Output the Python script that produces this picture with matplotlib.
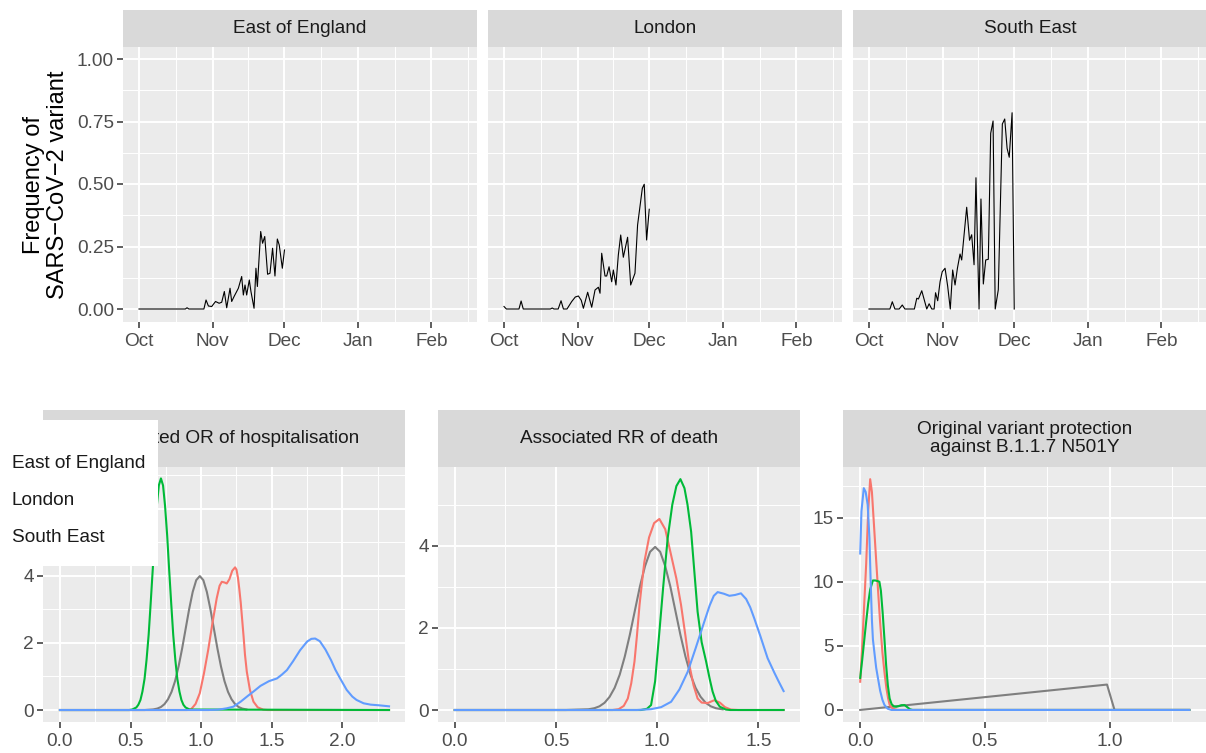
import matplotlib.pyplot as plt
from matplotlib.ticker import FixedLocator

plt.rcParams['font.family'] = ['Liberation Sans', 'DejaVu Sans']

# ---------------- datos: frecuencia de la variante (dias desde 1 oct) ----------------
eoe_dia = [0, 19.5, 20.2, 21, 27.3, 28.2, 29.2, 30.6, 31.3, 32.2, 33.7, 34.8, 35.9, 36.9, 38.3,
           39.0, 40.0, 41.1, 41.8, 43.2, 43.9, 44.6, 45.3, 46.4, 47.1, 48.4, 49.2, 49.8, 51.2,
           52.0, 52.9, 54.1, 55.1, 56.2, 57.2, 58.2, 59.0, 60.3, 61.2]
eoe_frec = [0, 0, 0.005, 0, 0, 0.036, 0.012, 0.010, 0.019, 0.030, 0.023, 0.027, 0.070, 0.005, 0.083,
            0.030, 0.050, 0.070, 0.083, 0.130, 0.056, 0.096, 0.056, 0.116, 0.070, 0.003, 0.163, 0.090, 0.310,
            0.263, 0.290, 0.139, 0.143, 0.243, 0.132, 0.280, 0.256, 0.163, 0.236]

lon_dia = [0, 1, 6.3, 7.2, 8.1, 19.5, 20.3, 21, 22.8, 24, 25, 26.5, 28.5, 30, 31.3, 32.5, 33.4,
           35.2, 36.9, 38.3, 39.7, 40.4, 41.1, 42.5, 43.2, 44.2, 45.3, 46.0, 47.1, 48.1, 49.1,
           50.2, 52.0, 53.3, 55.1, 56.2, 58.2, 59.0, 60.0, 61.1]
lon_frec = [0.010, 0, 0, 0.032, 0, 0, 0.004, 0, 0, 0.033, 0, 0, 0.030, 0.048, 0.052, 0.035, 0.003,
            0.067, 0.007, 0.076, 0.087, 0.063, 0.223, 0.132, 0.132, 0.169, 0.109, 0.156, 0.096, 0.216, 0.296,
            0.207, 0.287, 0.096, 0.143, 0.336, 0.483, 0.499, 0.276, 0.399]

se_dia = [0, 8.8, 9.8, 10.9, 12.7, 14.0, 15.1, 19.1, 20.1, 20.8, 22.2, 24.3, 25.3, 26.4, 27.4,
          28.0, 28.9, 29.9, 30.8, 32.0, 33.1, 34.2, 35.2, 36.2, 37.2, 38.3, 39.0, 41.1, 42.3, 43.2,
          44.2, 45.0, 46.3, 47.1, 48.1, 49.1, 50.2, 51.2, 52.2, 53.1, 54.4, 56.1, 57.1, 58.1, 59.0,
          60.2, 61.1]
se_frec = [0, 0, 0.029, 0, 0, 0.016, 0, 0, 0.043, 0.040, 0.073, 0, 0.021, 0, 0,
           0.065, 0.033, 0.109, 0.149, 0.163, 0.091, 0, 0.156, 0.096, 0.163, 0.220, 0.196, 0.407, 0.275, 0.297,
           0.177, 0.525, 0, 0.440, 0.100, 0.196, 0.199, 0.703, 0.752, 0, 0.077, 0.740, 0.760, 0.643, 0.607,
           0.785, 0]

regiones = ['East of England', 'London', 'South East']
meses = ['Oct', 'Nov', 'Dec', 'Jan', 'Feb']
dias_mes = [0, 31, 61, 92, 123]

# ---------------- densidades: OR de hospitalizacion ----------------
or_gris_x = [0, 0.60, 0.66, 0.69, 0.715, 0.74, 0.765, 0.79, 0.815, 0.84, 0.865, 0.89, 0.915, 0.94, 0.965,
             0.99, 1.015, 1.04, 1.065, 1.09, 1.115, 1.14, 1.165, 1.19, 1.215, 1.24, 1.265, 1.29, 1.32]
or_gris_y = [0, 0, 0.017, 0.044, 0.09, 0.175, 0.32, 0.54, 0.86, 1.30, 1.83, 2.42, 3.01, 3.52, 3.87,
             3.99, 3.87, 3.52, 3.01, 2.42, 1.83, 1.30, 0.86, 0.54, 0.32, 0.175, 0.09, 0.044, 0.017]
or_eoe_x = [0, 0.90, 0.93, 0.96, 0.99, 1.02, 1.05, 1.08, 1.11, 1.13, 1.146, 1.165, 1.181, 1.20, 1.22,
            1.24, 1.25, 1.26, 1.27, 1.28, 1.29, 1.30, 1.31, 1.323, 1.345, 1.37, 1.40, 1.44, 1.47, 2.33]
or_eoe_y = [0, 0, 0.03, 0.18, 0.5, 1.1, 1.8, 2.6, 3.33, 3.7, 3.82, 3.8, 3.77, 3.9, 4.15,
            4.25, 4.18, 3.95, 3.6, 3.2, 2.7, 2.2, 1.65, 1.14, 0.6, 0.25, 0.08, 0.01, 0, 0]
or_lon_x = [0, 0.49, 0.512, 0.541, 0.555, 0.570, 0.584, 0.599, 0.613, 0.628, 0.642, 0.657, 0.671, 0.686,
            0.700, 0.715, 0.730, 0.744, 0.759, 0.773, 0.788, 0.802, 0.817, 0.831, 0.846, 0.860, 0.874,
            0.889, 0.918, 2.33]
or_lon_y = [0, 0, 0.015, 0.077, 0.157, 0.30, 0.55, 0.93, 1.49, 2.24, 3.16, 4.19, 5.21, 6.09,
            6.69, 6.9, 6.69, 6.09, 5.21, 4.19, 3.16, 2.24, 1.49, 0.93, 0.55, 0.30, 0.157,
            0.077, 0.015, 0]
or_se_x = [0, 1.05, 1.12, 1.18, 1.228, 1.28, 1.33, 1.37, 1.42, 1.48, 1.536, 1.57, 1.607, 1.65, 1.70,
           1.75, 1.78, 1.807, 1.84, 1.88, 1.92, 1.95, 1.984, 2.03, 2.07, 2.10, 2.15, 2.20, 2.26, 2.33]
or_se_y = [0, 0, 0.01, 0.05, 0.1, 0.25, 0.42, 0.55, 0.72, 0.86, 0.94, 1.05, 1.19, 1.45, 1.78,
           2.04, 2.12, 2.13, 2.05, 1.8, 1.48, 1.2, 0.94, 0.6, 0.4, 0.30, 0.2, 0.16, 0.14, 0.11]

# ---------------- densidades: RR de muerte ----------------
rr_gris_x = [0, 0.55, 0.66, 0.69, 0.715, 0.74, 0.765, 0.79, 0.815, 0.84, 0.865, 0.89, 0.915, 0.94, 0.965,
             0.99, 1.015, 1.04, 1.065, 1.09, 1.115, 1.14, 1.165, 1.19, 1.215, 1.24, 1.265, 1.29, 1.324]
rr_gris_y = [0, 0, 0.017, 0.044, 0.09, 0.175, 0.32, 0.54, 0.86, 1.30, 1.83, 2.42, 3.01, 3.50, 3.85,
             3.97, 3.85, 3.50, 3.01, 2.42, 1.83, 1.30, 0.86, 0.54, 0.32, 0.175, 0.09, 0.044, 0.015]
rr_eoe_x = [0, 0.78, 0.81, 0.835, 0.855, 0.872, 0.888, 0.90, 0.913, 0.925, 0.937, 0.96, 0.985, 1.011, 1.04,
            1.069, 1.095, 1.118, 1.14, 1.159, 1.18, 1.20, 1.22, 1.25, 1.283, 1.31, 1.335, 1.365, 1.40, 1.625]
rr_eoe_y = [0, 0, 0.02, 0.1, 0.28, 0.65, 1.18, 1.8, 2.56, 3.1, 3.61, 4.2, 4.55, 4.65, 4.4,
            3.77, 3.2, 2.56, 1.8, 1.10, 0.6, 0.28, 0.18, 0.17, 0.24, 0.18, 0.07, 0.01, 0, 0]
rr_lon_x = [0, 0.92, 0.95, 0.97, 0.99, 1.011, 1.03, 1.052, 1.075, 1.095, 1.115, 1.135, 1.15, 1.168, 1.185,
            1.20, 1.22, 1.242, 1.26, 1.274, 1.29, 1.31, 1.34, 1.36, 1.625]
rr_lon_y = [0, 0, 0.03, 0.12, 0.7, 1.9, 3.0, 4.18, 5.0, 5.45, 5.62, 5.4, 5.0, 4.34, 3.3,
            2.39, 1.65, 1.18, 0.75, 0.45, 0.22, 0.08, 0.01, 0, 0]
rr_se_x = [0, 0.90, 0.97, 1.02, 1.069, 1.11, 1.151, 1.19, 1.233, 1.26, 1.28, 1.299, 1.33, 1.357, 1.385,
           1.414, 1.44, 1.46, 1.48, 1.51, 1.546, 1.58, 1.60, 1.625]
rr_se_y = [0, 0, 0.02, 0.07, 0.2, 0.5, 0.93, 1.5, 2.15, 2.55, 2.78, 2.87, 2.83, 2.78, 2.8,
           2.84, 2.7, 2.5, 2.23, 1.8, 1.26, 0.9, 0.7, 0.46]

# ---------------- densidades: proteccion de la variante original ----------------
pr_gris_x = [0, 0.99, 1.02, 1.32]
pr_gris_y = [0, 1.98, 0, 0]
pr_eoe_x = [0, 0.008, 0.016, 0.024, 0.032, 0.040, 0.047, 0.055, 0.063, 0.071, 0.08, 0.089, 0.097,
            0.105, 0.112, 0.118, 0.13, 0.15, 1.32]
pr_eoe_y = [2.2, 5.0, 8.2, 11.4, 15.5, 18.0, 17.0, 14.5, 12.0, 9.5, 6.8, 4.5, 3.0,
            1.7, 0.9, 0.4, 0.1, 0, 0]
pr_lon_x = [0, 0.008, 0.016, 0.024, 0.032, 0.040, 0.051, 0.060, 0.070, 0.077, 0.083, 0.090, 0.097,
            0.104, 0.111, 0.118, 0.126, 0.135, 0.144, 0.155, 0.165, 0.178, 0.19, 0.20, 0.21, 1.32]
pr_lon_y = [2.5, 3.9, 5.4, 6.9, 8.3, 9.4, 10.1, 10.1, 10.05, 10.0, 9.3, 7.6, 5.6,
            3.5, 1.9, 0.9, 0.45, 0.28, 0.25, 0.3, 0.37, 0.38, 0.2, 0.05, 0, 0]
pr_se_x = [0, 0.005, 0.0144, 0.022, 0.030, 0.037, 0.042, 0.047, 0.051, 0.058, 0.064, 0.071, 0.08,
           0.089, 0.097, 0.11, 0.125, 1.32]
pr_se_y = [12.2, 15.5, 17.3, 17.0, 16.0, 13.4, 10.0, 7.0, 5.5, 4.3, 3.3, 2.5, 1.5,
           0.8, 0.4, 0.1, 0, 0]

colores = ['#F8766D', '#00BA38', '#619CFF']
gris = '#7F7F7F'

W, H = 1206, 753
fig = plt.figure(figsize=(W / 100, H / 100), dpi=100)
fig.patch.set_facecolor('white')


def caja(x0, y0, x1, y1):
    # rectangulo en pixeles -> coordenadas de figura
    return [x0 / W, 1 - y1 / H, (x1 - x0) / W, (y1 - y0) / H]


def panel(x0, y0, x1, y1, y_tira, titulo):
    tira = fig.add_axes(caja(x0, y_tira, x1, y0))
    tira.set_facecolor('#D9D9D9')
    tira.set_xticks([])
    tira.set_yticks([])
    for sp in tira.spines.values():
        sp.set_visible(False)
    tira.text(0.5, 0.5, titulo, ha='center', va='center', fontsize=13.7,
              color='#1A1A1A', linespacing=1.05, transform=tira.transAxes)

    ax = fig.add_axes(caja(x0, y0, x1, y1))
    ax.set_facecolor('#EBEBEB')
    for sp in ax.spines.values():
        sp.set_visible(False)
    ax.set_axisbelow(True)
    ax.grid(which='major', color='white', lw=1.4)
    ax.grid(which='minor', color='white', lw=0.7)
    ax.tick_params(which='major', length=4, width=1.1, color='#333333',
                   labelcolor='#4D4D4D', labelsize=13.7, pad=2.5)
    ax.tick_params(axis='x', which='major', pad=4)
    ax.tick_params(which='minor', length=0)
    return ax


############## Fila superior: frecuencia por region #############

series = [(eoe_dia, eoe_frec), (lon_dia, lon_frec), (se_dia, se_frec)]
for i, (dia, frec) in enumerate(series):
    x0 = 123 + i * 365
    ax = panel(x0, 47, x0 + 354, 322, 10, regiones[i])
    ax.plot(dia, frec, color='black', lw=0.8)
    ax.set_xlim(-6.73, 142.2)
    ax.set_ylim(-0.052, 1.048)
    ax.xaxis.set_major_locator(FixedLocator(dias_mes))
    ax.set_xticklabels(meses)
    ax.xaxis.set_minor_locator(FixedLocator([15.5, 46, 76.5, 107.5, 138.5]))
    ax.yaxis.set_major_locator(FixedLocator([0, 0.25, 0.5, 0.75, 1.0]))
    ax.yaxis.set_minor_locator(FixedLocator([0.125, 0.375, 0.625, 0.875]))
    if i == 0:
        ax.set_yticklabels(['0.00', '0.25', '0.50', '0.75', '1.00'])
    else:
        ax.tick_params(axis='y', which='major', length=0, labelleft=False)

fig.text(46 / W, 1 - 184.5 / H, 'Frequency of\nSARS\u2212CoV\u22122 variant', rotation=90,
         ha='center', va='center', fontsize=17, color='black', linespacing=1.1)

############## Fila inferior: densidades a posteriori #############

ax1 = panel(43, 467, 405, 722, 410, 'Associated OR of hospitalisation')
ax1.plot(or_gris_x, or_gris_y, color=gris, lw=1.5)
ax1.plot(or_eoe_x, or_eoe_y, color=colores[0], lw=1.5)
ax1.plot(or_lon_x, or_lon_y, color=colores[1], lw=1.5)
ax1.plot(or_se_x, or_se_y, color=colores[2], lw=1.5)
ax1.set_xlim(-0.12, 2.443)
ax1.set_ylim(-0.357, 7.24)
ax1.xaxis.set_major_locator(FixedLocator([0, 0.5, 1.0, 1.5, 2.0]))
ax1.xaxis.set_minor_locator(FixedLocator([0.25, 0.75, 1.25, 1.75, 2.25]))
ax1.yaxis.set_major_locator(FixedLocator([0, 2, 4, 6]))
ax1.set_yticklabels(['0', '2', '4', ''])  # el 6 queda tapado por la leyenda
ax1.yaxis.set_minor_locator(FixedLocator([1, 3, 5, 7]))

ax2 = panel(438, 467, 800, 722, 410, 'Associated RR of death')
ax2.plot(rr_gris_x, rr_gris_y, color=gris, lw=1.5)
ax2.plot(rr_eoe_x, rr_eoe_y, color=colores[0], lw=1.5)
ax2.plot(rr_lon_x, rr_lon_y, color=colores[1], lw=1.5)
ax2.plot(rr_se_x, rr_se_y, color=colores[2], lw=1.5)
ax2.set_xlim(-0.083, 1.706)
ax2.set_ylim(-0.292, 5.915)
ax2.xaxis.set_major_locator(FixedLocator([0, 0.5, 1.0, 1.5]))
ax2.xaxis.set_minor_locator(FixedLocator([0.25, 0.75, 1.25]))
ax2.yaxis.set_major_locator(FixedLocator([0, 2, 4]))
ax2.yaxis.set_minor_locator(FixedLocator([1, 3, 5]))

ax3 = panel(843, 467, 1206, 722, 410, 'Original variant protection\nagainst B.1.1.7 N501Y')
ax3.plot(pr_gris_x, pr_gris_y, color=gris, lw=1.5)
ax3.plot(pr_eoe_x, pr_eoe_y, color=colores[0], lw=1.5)
ax3.plot(pr_lon_x, pr_lon_y, color=colores[1], lw=1.5)
ax3.plot(pr_se_x, pr_se_y, color=colores[2], lw=1.5)
ax3.set_xlim(-0.069, 1.387)
ax3.set_ylim(-0.94, 18.95)
ax3.xaxis.set_major_locator(FixedLocator([0, 0.5, 1.0]))
ax3.xaxis.set_minor_locator(FixedLocator([0.25, 0.75, 1.25]))
ax3.yaxis.set_major_locator(FixedLocator([0, 5, 10, 15]))
ax3.yaxis.set_minor_locator(FixedLocator([2.5, 7.5, 12.5, 17.5]))

# leyenda (solo etiquetas) sobre el primer panel
leg = fig.add_axes(caja(0, 420, 158, 566), zorder=10)
leg.set_facecolor('white')
leg.set_xticks([])
leg.set_yticks([])
for sp in leg.spines.values():
    sp.set_visible(False)
for nombre, yy in zip(regiones, [0.700, 0.452, 0.192]):
    leg.text(12 / 158, yy, nombre, ha='left', va='center', fontsize=13.7,
             color='#1A1A1A', transform=leg.transAxes)

plt.savefig('out.png', dpi=100, facecolor='white')
